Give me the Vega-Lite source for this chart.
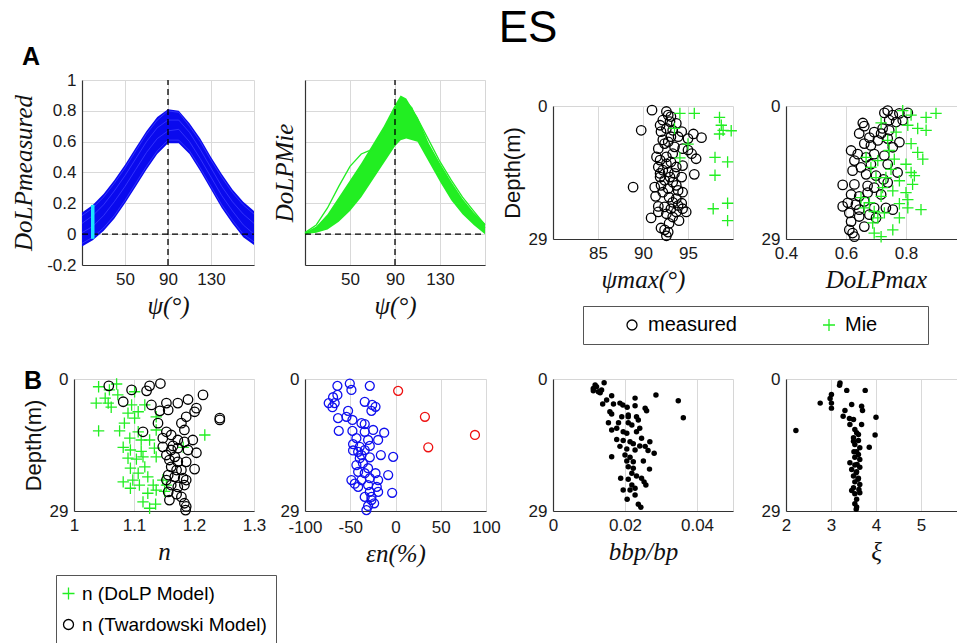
{
"$schema": "https://vega.github.io/schema/vega-lite/v6.json",
"background": "white",
"padding": {"left": 11, "top": 7, "right": 0, "bottom": 0},
"title": {"text": "ES", "fontSize": 44, "font": "Liberation Sans", "fontWeight": "normal", "anchor": "middle", "color": "#000", "offset": -6, "dx": 39},
"config": {
 "font": "Liberation Sans",
 "view": {"stroke": "#d6d6d6", "strokeWidth": 1},
 "axis": {"labelFont": "Liberation Sans", "labelFontSize": 17, "labelColor": "#1a1a1a", "titleFont": "Liberation Serif", "titleFontStyle": "italic", "titleFontWeight": "normal", "titleFontSize": 25, "titleColor": "#111", "domainColor": "#333", "domainWidth": 1.2, "ticks": false, "gridColor": "#d9d9d9", "labelFlush": false, "labelOverlap": false, "labelPadding": 6, "titlePadding": 6}
},
"columns": 8,
"spacing": {"row": 114, "column": 0},
"bounds": "flush",
"align": {"row": "each", "column": "each"},
"center": {"row": true, "column": true},
"resolve": {"scale": {"color": "independent", "shape": "independent"}, "legend": {"color": "independent", "shape": "independent"}},
"concat": [
 {"width": 9, "height": 1, "data": {"values": [{"a": 1}]}, "mark": {"type": "point", "opacity": 0}, "view": {"stroke": null}},
 {
  "width": 180, "height": 185,
  "view": {"stroke": null},
  "title": {"text": "A", "anchor": "start", "frame": "group", "fontSize": 25, "fontWeight": "bold", "font": "Liberation Sans", "dx": -52, "offset": 1, "color": "#000"},
  "encoding": {
   "x": {"field": "psi", "type": "quantitative", "scale": {"domain": [10, 170], "range": [8, 180], "nice": false, "zero": false}, "axis": {"values": [50, 90, 130, 170], "labelExpr": "datum.value > 150 ? '' : datum.label", "title": "ψ(°)", "titleX": 94, "grid": true, "labelOverlap": false}},
   "y": {"field": "y", "type": "quantitative", "scale": {"domain": [-0.2, 1], "nice": false, "zero": false}, "axis": {"values": [-0.2, 0, 0.2, 0.4, 0.6, 0.8, 1], "offset": -8, "labelExpr": "datum.value < -0.1 ? '-0.2' : format(datum.value, '.1~f')", "title": "DoLPmeasured", "grid": true, "titlePadding": 10, "labelOverlap": false, "labelSeparation": 0}}
  },
  "layer": [
   {"data": {"values": [
     {"psi":10,"y":-0.08,"y2":0.14},{"psi":20,"y":-0.04,"y2":0.19},{"psi":30,"y":0.02,"y2":0.26},{"psi":40,"y":0.10,"y2":0.35},{"psi":50,"y":0.20,"y2":0.45},{"psi":60,"y":0.31,"y2":0.56},{"psi":70,"y":0.42,"y2":0.67},{"psi":80,"y":0.52,"y2":0.76},{"psi":90,"y":0.59,"y2":0.81},{"psi":100,"y":0.59,"y2":0.80},{"psi":110,"y":0.52,"y2":0.72},{"psi":120,"y":0.41,"y2":0.62},{"psi":130,"y":0.29,"y2":0.50},{"psi":140,"y":0.17,"y2":0.39},{"psi":150,"y":0.07,"y2":0.29},{"psi":160,"y":-0.02,"y2":0.21},{"psi":170,"y":-0.07,"y2":0.15}
    ]},
    "mark": {"type": "area", "color": "#0a0aee", "opacity": 1},
    "encoding": {"y2": {"field": "y2"}}},
   {"data": {"values": [
     {"c":"c1","psi":10,"y":0.12},{"c":"c1","psi":20,"y":0.17},{"c":"c1","psi":30,"y":0.24},{"c":"c1","psi":40,"y":0.33},{"c":"c1","psi":50,"y":0.43},{"c":"c1","psi":60,"y":0.54},{"c":"c1","psi":70,"y":0.65},{"c":"c1","psi":80,"y":0.74},{"c":"c1","psi":90,"y":0.80},{"c":"c1","psi":100,"y":0.79},{"c":"c1","psi":110,"y":0.70},{"c":"c1","psi":120,"y":0.60},{"c":"c1","psi":130,"y":0.48},{"c":"c1","psi":140,"y":0.37},{"c":"c1","psi":150,"y":0.27},{"c":"c1","psi":160,"y":0.19},{"c":"c1","psi":170,"y":0.13},
     {"c":"c2","psi":10,"y":0.07},{"c":"c2","psi":20,"y":0.12},{"c":"c2","psi":30,"y":0.19},{"c":"c2","psi":40,"y":0.28},{"c":"c2","psi":50,"y":0.38},{"c":"c2","psi":60,"y":0.49},{"c":"c2","psi":70,"y":0.60},{"c":"c2","psi":80,"y":0.69},{"c":"c2","psi":90,"y":0.74},{"c":"c2","psi":100,"y":0.74},{"c":"c2","psi":110,"y":0.66},{"c":"c2","psi":120,"y":0.55},{"c":"c2","psi":130,"y":0.43},{"c":"c2","psi":140,"y":0.31},{"c":"c2","psi":150,"y":0.21},{"c":"c2","psi":160,"y":0.13},{"c":"c2","psi":170,"y":0.07},
     {"c":"c3","psi":10,"y":0.01},{"c":"c3","psi":20,"y":0.05},{"c":"c3","psi":30,"y":0.12},{"c":"c3","psi":40,"y":0.21},{"c":"c3","psi":50,"y":0.31},{"c":"c3","psi":60,"y":0.42},{"c":"c3","psi":70,"y":0.53},{"c":"c3","psi":80,"y":0.62},{"c":"c3","psi":90,"y":0.67},{"c":"c3","psi":100,"y":0.68},{"c":"c3","psi":110,"y":0.60},{"c":"c3","psi":120,"y":0.49},{"c":"c3","psi":130,"y":0.37},{"c":"c3","psi":140,"y":0.25},{"c":"c3","psi":150,"y":0.15},{"c":"c3","psi":160,"y":0.06},{"c":"c3","psi":170,"y":0.0},
     {"c":"c4","psi":10,"y":-0.06},{"c":"c4","psi":20,"y":-0.02},{"c":"c4","psi":30,"y":0.04},{"c":"c4","psi":40,"y":0.12},{"c":"c4","psi":50,"y":0.22},{"c":"c4","psi":60,"y":0.33},{"c":"c4","psi":70,"y":0.44},{"c":"c4","psi":80,"y":0.54},{"c":"c4","psi":90,"y":0.61},{"c":"c4","psi":100,"y":0.61},{"c":"c4","psi":110,"y":0.54},{"c":"c4","psi":120,"y":0.43},{"c":"c4","psi":130,"y":0.31},{"c":"c4","psi":140,"y":0.19},{"c":"c4","psi":150,"y":0.09},{"c":"c4","psi":160,"y":0.0},{"c":"c4","psi":170,"y":-0.05}
    ]},
    "mark": {"type": "line", "color": "#3b3bff", "strokeWidth": 0.8},
    "encoding": {"detail": {"field": "c"}}},
   {"data": {"values": [{"psi": 90, "y": -0.2, "y2": 1}]}, "mark": {"type": "rule", "color": "#000", "strokeDash": [6, 4], "strokeWidth": 1.3}, "encoding": {"y2": {"field": "y2"}}},
   {"data": {"values": [{"psi": 10, "psi2": 170, "y": 0}]}, "mark": {"type": "rule", "color": "#000", "strokeDash": [6, 4], "strokeWidth": 1.3}, "encoding": {"x2": {"field": "psi2"}}},
   {"data": {"values": [{"psi": 20, "y": -0.03, "y2": 0.19}]}, "mark": {"type": "rule", "color": "#19e3ff", "strokeWidth": 3.5}, "encoding": {"y2": {"field": "y2"}}}
  ]
 },
 {"width": 50, "height": 1, "data": {"values": [{"a": 1}]}, "mark": {"type": "point", "opacity": 0}, "view": {"stroke": null}},
 {
  "width": 180, "height": 185,
  "encoding": {
   "x": {"field": "psi", "type": "quantitative", "scale": {"domain": [10, 170], "nice": false, "zero": false}, "axis": {"values": [50, 90, 130], "title": "ψ(°)", "grid": true, "labelOverlap": false}},
   "y": {"field": "y", "type": "quantitative", "scale": {"domain": [-0.2, 1], "nice": false, "zero": false}, "axis": {"values": [-0.2, 0, 0.2, 0.4, 0.6, 0.8, 1], "labels": false, "title": "DoLPMie", "grid": true, "titlePadding": 8}}
  },
  "layer": [
   {"data": {"values": [
     {"psi":10,"y":0.0,"y2":0.01},{"psi":20,"y":0.01,"y2":0.05},{"psi":30,"y":0.03,"y2":0.13},{"psi":40,"y":0.08,"y2":0.24},{"psi":50,"y":0.15,"y2":0.35},{"psi":60,"y":0.24,"y2":0.46},{"psi":70,"y":0.35,"y2":0.58},{"psi":80,"y":0.46,"y2":0.70},{"psi":90,"y":0.57,"y2":0.84},{"psi":95,"y":0.61,"y2":0.90},{"psi":100,"y":0.62,"y2":0.88},{"psi":110,"y":0.60,"y2":0.76},{"psi":120,"y":0.47,"y2":0.59},{"psi":130,"y":0.34,"y2":0.46},{"psi":140,"y":0.22,"y2":0.34},{"psi":150,"y":0.13,"y2":0.23},{"psi":160,"y":0.06,"y2":0.14},{"psi":170,"y":0.0,"y2":0.07}
    ]},
    "mark": {"type": "area", "color": "#22ee22", "opacity": 1},
    "encoding": {"y2": {"field": "y2"}}},
   {"data": {"values": [
     {"c":"o","psi":10,"y":0.01},{"c":"o","psi":20,"y":0.06},{"c":"o","psi":30,"y":0.17},{"c":"o","psi":40,"y":0.31},{"c":"o","psi":50,"y":0.44},{"c":"o","psi":60,"y":0.52},{"c":"o","psi":65,"y":0.535},{"c":"o","psi":70,"y":0.55},{"c":"o","psi":80,"y":0.65},{"c":"o","psi":90,"y":0.80},{"c":"o","psi":100,"y":0.86},{"c":"o","psi":110,"y":0.75},{"c":"o","psi":120,"y":0.61},{"c":"o","psi":130,"y":0.47},{"c":"o","psi":140,"y":0.35},{"c":"o","psi":150,"y":0.24},{"c":"o","psi":160,"y":0.15},{"c":"o","psi":170,"y":0.06},
     {"c":"p","psi":10,"y":0.0},{"c":"p","psi":20,"y":0.04},{"c":"p","psi":30,"y":0.11},{"c":"p","psi":40,"y":0.21},{"c":"p","psi":50,"y":0.32},{"c":"p","psi":60,"y":0.43},{"c":"p","psi":70,"y":0.55},{"c":"p","psi":80,"y":0.67},{"c":"p","psi":90,"y":0.80},{"c":"p","psi":97,"y":0.88},{"c":"p","psi":105,"y":0.82},{"c":"p","psi":110,"y":0.73},{"c":"p","psi":120,"y":0.57},{"c":"p","psi":130,"y":0.44},{"c":"p","psi":140,"y":0.32},{"c":"p","psi":150,"y":0.21},{"c":"p","psi":160,"y":0.12},{"c":"p","psi":170,"y":0.04}
    ]},
    "mark": {"type": "line", "color": "#22ee22", "strokeWidth": 1.3},
    "encoding": {"detail": {"field": "c"}}},
   {"data": {"values": [{"psi": 90, "y": -0.2, "y2": 1}]}, "mark": {"type": "rule", "color": "#000", "strokeDash": [6, 4], "strokeWidth": 1.3}, "encoding": {"y2": {"field": "y2"}}},
   {"data": {"values": [{"psi": 10, "psi2": 170, "y": 0}]}, "mark": {"type": "rule", "color": "#000", "strokeDash": [6, 4], "strokeWidth": 1.3}, "encoding": {"x2": {"field": "psi2"}}}
  ]
 },
 {"width": 67, "height": 1, "data": {"values": [{"a": 1}]}, "mark": {"type": "point", "opacity": 0}, "view": {"stroke": null}},
 {
  "width": 180, "height": 133,
  "data": {"values": [
   {"v":91.0,"d":0.9,"t":"measured"},{"v":92.6,"d":1.2,"t":"measured"},{"v":92.8,"d":2.0,"t":"measured"},{"v":93.1,"d":2.3,"t":"measured"},{"v":92.2,"d":3.1,"t":"measured"},{"v":93.0,"d":3.4,"t":"measured"},{"v":93.7,"d":3.8,"t":"measured"},{"v":91.9,"d":4.2,"t":"measured"},{"v":89.8,"d":5.3,"t":"measured"},{"v":92.6,"d":4.9,"t":"measured"},{"v":93.3,"d":5.3,"t":"measured"},{"v":94.3,"d":5.6,"t":"measured"},{"v":95.6,"d":6.1,"t":"measured"},{"v":96.5,"d":6.9,"t":"measured"},{"v":92.0,"d":5.6,"t":"measured"},{"v":92.2,"d":7.4,"t":"measured"},{"v":92.8,"d":7.8,"t":"measured"},{"v":93.5,"d":8.9,"t":"measured"},{"v":94.4,"d":9.3,"t":"measured"},{"v":95.0,"d":7.1,"t":"measured"},{"v":95.0,"d":9.6,"t":"measured"},{"v":95.4,"d":10.4,"t":"measured"},{"v":93.3,"d":10.4,"t":"measured"},{"v":95.9,"d":11.5,"t":"measured"},{"v":92.6,"d":11.1,"t":"measured"},{"v":91.9,"d":11.8,"t":"measured"},{"v":93.1,"d":12.2,"t":"measured"},{"v":93.7,"d":13.3,"t":"measured"},{"v":94.4,"d":13.0,"t":"measured"},{"v":91.7,"d":13.3,"t":"measured"},{"v":92.2,"d":14.0,"t":"measured"},{"v":92.8,"d":14.4,"t":"measured"},{"v":95.7,"d":14.9,"t":"measured"},{"v":94.3,"d":15.5,"t":"measured"},{"v":91.9,"d":15.5,"t":"measured"},{"v":92.4,"d":16.2,"t":"measured"},{"v":93.3,"d":16.6,"t":"measured"},{"v":88.9,"d":17.7,"t":"measured"},{"v":92.0,"d":17.3,"t":"measured"},{"v":92.8,"d":18.0,"t":"measured"},{"v":93.9,"d":18.4,"t":"measured"},{"v":94.4,"d":18.8,"t":"measured"},{"v":91.4,"d":19.7,"t":"measured"},{"v":92.9,"d":19.9,"t":"measured"},{"v":93.7,"d":20.2,"t":"measured"},{"v":93.3,"d":21.0,"t":"measured"},{"v":94.3,"d":21.2,"t":"measured"},{"v":91.7,"d":21.9,"t":"measured"},{"v":92.4,"d":22.0,"t":"measured"},{"v":93.1,"d":22.4,"t":"measured"},{"v":94.4,"d":22.4,"t":"measured"},{"v":94.8,"d":23.1,"t":"measured"},{"v":93.7,"d":23.1,"t":"measured"},{"v":92.6,"d":23.5,"t":"measured"},{"v":90.9,"d":24.4,"t":"measured"},{"v":93.3,"d":24.2,"t":"measured"},{"v":94.0,"d":25.0,"t":"measured"},{"v":92.9,"d":25.6,"t":"measured"},{"v":92.0,"d":26.6,"t":"measured"},{"v":92.4,"d":27.0,"t":"measured"},{"v":92.8,"d":27.5,"t":"measured"},{"v":92.6,"d":28.3,"t":"measured"},{"v":91.7,"d":23.1,"t":"measured"},{"v":91.3,"d":17.7,"t":"measured"},{"v":91.5,"d":11.1,"t":"measured"},{"v":91.7,"d":9.3,"t":"measured"},{"v":93.9,"d":6.7,"t":"measured"},{"v":93.1,"d":6.7,"t":"measured"},{"v":92.4,"d":8.2,"t":"measured"},{"v":91.9,"d":14.7,"t":"measured"},{"v":93.5,"d":14.7,"t":"measured"},{"v":92.6,"d":12.6,"t":"measured"},{"v":93.0,"d":15.5,"t":"measured"},{"v":93.7,"d":17.3,"t":"measured"},{"v":92.2,"d":18.8,"t":"measured"},{"v":93.9,"d":21.7,"t":"measured"},
   {"v":94.1,"d":1.6,"t":"Mie"},{"v":95.7,"d":1.6,"t":"Mie"},{"v":98.5,"d":2.5,"t":"Mie"},{"v":98.7,"d":4.2,"t":"Mie"},{"v":98.9,"d":5.3,"t":"Mie"},{"v":99.8,"d":5.4,"t":"Mie"},{"v":98.5,"d":6.1,"t":"Mie"},{"v":93.5,"d":4.9,"t":"Mie"},{"v":95.0,"d":8.3,"t":"Mie"},{"v":94.1,"d":11.3,"t":"Mie"},{"v":98.0,"d":11.2,"t":"Mie"},{"v":99.4,"d":12.2,"t":"Mie"},{"v":98.0,"d":15.1,"t":"Mie"},{"v":99.4,"d":21.2,"t":"Mie"},{"v":97.8,"d":22.4,"t":"Mie"},{"v":99.4,"d":25.0,"t":"Mie"}
  ]},
  "mark": {"type": "point", "filled": false, "strokeWidth": 1.3, "size": 90, "opacity": 1},
  "encoding": {
   "x": {"field": "v", "type": "quantitative", "scale": {"domain": [80, 100], "nice": false, "zero": false}, "axis": {"values": [85, 90, 95], "title": "ψmax(°)", "grid": true}},
   "y": {"field": "d", "type": "quantitative", "scale": {"domain": [0, 29], "reverse": true, "nice": false, "zero": false}, "axis": {"values": [0, 29], "grid": false, "title": "Depth(m)", "titleFont": "Liberation Sans", "titleFontStyle": "normal", "titleFontSize": 22, "titlePadding": 4}},
   "color": {"field": "t", "type": "nominal", "scale": {"domain": ["measured", "Mie"], "range": ["#000000", "#22ee22"]},
     "legend": {"title": "\u00a0", "titleOrient": "right", "titlePadding": 42, "titleFontSize": 20, "orient": "none", "legendX": 30, "legendY": 200, "direction": "horizontal", "strokeColor": "#555", "fillColor": "#fff", "padding": 9, "labelFont": "Liberation Sans", "labelFontSize": 20, "labelColor": "#000", "symbolSize": 100, "symbolStrokeWidth": 1.3, "labelOffset": 6, "columnPadding": 52, "symbolOffset": 30, "labelLimit": 400}},
   "shape": {"field": "t", "type": "nominal", "scale": {"domain": ["measured", "Mie"], "range": ["circle", "M-1.2,0H1.2M0,-1.2V1.2"]},
     "legend": {"title": "\u00a0", "titleOrient": "right", "titlePadding": 42, "titleFontSize": 20, "orient": "none", "legendX": 30, "legendY": 200, "direction": "horizontal", "strokeColor": "#555", "fillColor": "#fff", "padding": 9, "labelFont": "Liberation Sans", "labelFontSize": 20, "labelColor": "#000", "symbolSize": 100, "symbolStrokeWidth": 1.3, "labelOffset": 6, "columnPadding": 52, "symbolOffset": 30, "labelLimit": 400}}
  }
 },
 {"width": 53, "height": 1, "data": {"values": [{"a": 1}]}, "mark": {"type": "point", "opacity": 0}, "view": {"stroke": null}},
 {
  "width": 180, "height": 133,
  "data": {"values": [
   {"v":0.739,"d":1.0,"t":"m"},{"v":0.728,"d":1.5,"t":"m"},{"v":0.756,"d":2.0,"t":"m"},{"v":0.778,"d":1.6,"t":"m"},{"v":0.806,"d":1.5,"t":"m"},{"v":0.744,"d":3.1,"t":"m"},{"v":0.767,"d":3.5,"t":"m"},{"v":0.789,"d":3.1,"t":"m"},{"v":0.656,"d":3.7,"t":"m"},{"v":0.661,"d":4.4,"t":"m"},{"v":0.722,"d":4.9,"t":"m"},{"v":0.694,"d":5.7,"t":"m"},{"v":0.717,"d":6.0,"t":"m"},{"v":0.644,"d":6.0,"t":"m"},{"v":0.678,"d":6.9,"t":"m"},{"v":0.744,"d":5.3,"t":"m"},{"v":0.661,"d":8.2,"t":"m"},{"v":0.683,"d":8.6,"t":"m"},{"v":0.706,"d":7.5,"t":"m"},{"v":0.739,"d":7.1,"t":"m"},{"v":0.778,"d":7.9,"t":"m"},{"v":0.756,"d":9.0,"t":"m"},{"v":0.617,"d":9.7,"t":"m"},{"v":0.639,"d":10.5,"t":"m"},{"v":0.628,"d":11.9,"t":"m"},{"v":0.667,"d":11.2,"t":"m"},{"v":0.694,"d":10.5,"t":"m"},{"v":0.728,"d":10.8,"t":"m"},{"v":0.739,"d":12.7,"t":"m"},{"v":0.683,"d":12.7,"t":"m"},{"v":0.650,"d":13.4,"t":"m"},{"v":0.622,"d":14.1,"t":"m"},{"v":0.667,"d":14.9,"t":"m"},{"v":0.700,"d":15.2,"t":"m"},{"v":0.772,"d":14.5,"t":"m"},{"v":0.725,"d":16.0,"t":"m"},{"v":0.589,"d":17.2,"t":"m"},{"v":0.628,"d":17.1,"t":"m"},{"v":0.672,"d":17.4,"t":"m"},{"v":0.694,"d":17.8,"t":"m"},{"v":0.739,"d":16.7,"t":"m"},{"v":0.617,"d":19.3,"t":"m"},{"v":0.644,"d":19.7,"t":"m"},{"v":0.672,"d":18.9,"t":"m"},{"v":0.717,"d":19.3,"t":"m"},{"v":0.606,"d":21.1,"t":"m"},{"v":0.589,"d":21.9,"t":"m"},{"v":0.633,"d":21.5,"t":"m"},{"v":0.661,"d":20.8,"t":"m"},{"v":0.694,"d":22.2,"t":"m"},{"v":0.733,"d":22.2,"t":"m"},{"v":0.756,"d":22.6,"t":"m"},{"v":0.611,"d":23.3,"t":"m"},{"v":0.644,"d":24.1,"t":"m"},{"v":0.678,"d":23.7,"t":"m"},{"v":0.617,"d":25.2,"t":"m"},{"v":0.661,"d":26.3,"t":"m"},{"v":0.611,"d":27.0,"t":"m"},{"v":0.622,"d":27.7,"t":"m"},{"v":0.628,"d":28.5,"t":"m"},{"v":0.700,"d":24.4,"t":"m"},{"v":0.644,"d":22.6,"t":"m"},
   {"v":0.789,"d":1.0,"t":"x"},{"v":0.817,"d":2.0,"t":"x"},{"v":0.867,"d":2.5,"t":"x"},{"v":0.9,"d":1.6,"t":"x"},{"v":0.717,"d":3.7,"t":"x"},{"v":0.806,"d":4.2,"t":"x"},{"v":0.839,"d":4.9,"t":"x"},{"v":0.867,"d":5.3,"t":"x"},{"v":0.767,"d":5.7,"t":"x"},{"v":0.739,"d":7.5,"t":"x"},{"v":0.817,"d":8.2,"t":"x"},{"v":0.839,"d":10.1,"t":"x"},{"v":0.856,"d":11.6,"t":"x"},{"v":0.667,"d":11.2,"t":"x"},{"v":0.706,"d":11.9,"t":"x"},{"v":0.761,"d":11.6,"t":"x"},{"v":0.800,"d":12.7,"t":"x"},{"v":0.683,"d":13.4,"t":"x"},{"v":0.75,"d":13.8,"t":"x"},{"v":0.817,"d":14.5,"t":"x"},{"v":0.828,"d":15.2,"t":"x"},{"v":0.700,"d":15.6,"t":"x"},{"v":0.733,"d":15.6,"t":"x"},{"v":0.778,"d":16.3,"t":"x"},{"v":0.822,"d":17.1,"t":"x"},{"v":0.722,"d":17.8,"t":"x"},{"v":0.756,"d":18.5,"t":"x"},{"v":0.800,"d":18.9,"t":"x"},{"v":0.717,"d":19.7,"t":"x"},{"v":0.806,"d":20.4,"t":"x"},{"v":0.678,"d":21.1,"t":"x"},{"v":0.778,"d":21.3,"t":"x"},{"v":0.661,"d":22.2,"t":"x"},{"v":0.694,"d":23.0,"t":"x"},{"v":0.728,"d":23.3,"t":"x"},{"v":0.850,"d":22.6,"t":"x"},{"v":0.806,"d":22.2,"t":"x"},{"v":0.706,"d":24.4,"t":"x"},{"v":0.778,"d":24.4,"t":"x"},{"v":0.689,"d":25.5,"t":"x"},{"v":0.756,"d":27.0,"t":"x"},{"v":0.694,"d":27.7,"t":"x"},{"v":0.717,"d":28.5,"t":"x"},{"v":0.650,"d":20.0,"t":"x"},{"v":0.744,"d":9.7,"t":"x"}
  ]},
  "mark": {"type": "point", "filled": false, "strokeWidth": 1.3, "size": 90, "opacity": 1},
  "encoding": {
   "x": {"field": "v", "type": "quantitative", "scale": {"domain": [0.4, 1.0], "nice": false, "zero": false}, "axis": {"values": [0.4, 0.6, 0.8], "format": ".1f", "title": "DoLPmax", "grid": true}},
   "y": {"field": "d", "type": "quantitative", "scale": {"domain": [0, 29], "reverse": true, "nice": false, "zero": false}, "axis": {"values": [0, 29], "grid": false, "title": null}},
   "color": {"field": "t", "type": "nominal", "scale": {"domain": ["m", "x"], "range": ["#000000", "#22ee22"]}, "legend": null},
   "shape": {"field": "t", "type": "nominal", "scale": {"domain": ["m", "x"], "range": ["circle", "M-1.2,0H1.2M0,-1.2V1.2"]}, "legend": null}
  }
 },
 {"width": 1, "height": 1, "data": {"values": [{"a": 1}]}, "mark": {"type": "point", "opacity": 0}, "view": {"stroke": null}},
 {
  "width": 180, "height": 132,
  "title": {"text": "B", "anchor": "start", "frame": "group", "fontSize": 25, "fontWeight": "bold", "font": "Liberation Sans", "dx": -50, "offset": -24, "color": "#000"},
  "data": {"values": [
   {"v":1.041,"d":1.7,"t":"n (DoLP Model)"},{"v":1.071,"d":1.1,"t":"n (DoLP Model)"},{"v":1.059,"d":2.4,"t":"n (DoLP Model)"},{"v":1.052,"d":4.2,"t":"n (DoLP Model)"},{"v":1.037,"d":5.3,"t":"n (DoLP Model)"},{"v":1.057,"d":5.3,"t":"n (DoLP Model)"},{"v":1.062,"d":6.2,"t":"n (DoLP Model)"},{"v":1.073,"d":3.5,"t":"n (DoLP Model)"},{"v":1.101,"d":2.8,"t":"n (DoLP Model)"},{"v":1.096,"d":5.7,"t":"n (DoLP Model)"},{"v":1.118,"d":5.7,"t":"n (DoLP Model)"},{"v":1.090,"d":7.5,"t":"n (DoLP Model)"},{"v":1.107,"d":7.2,"t":"n (DoLP Model)"},{"v":1.101,"d":8.6,"t":"n (DoLP Model)"},{"v":1.084,"d":9.7,"t":"n (DoLP Model)"},{"v":1.137,"d":8.3,"t":"n (DoLP Model)"},{"v":1.041,"d":11.4,"t":"n (DoLP Model)"},{"v":1.076,"d":11.4,"t":"n (DoLP Model)"},{"v":1.107,"d":11.6,"t":"n (DoLP Model)"},{"v":1.137,"d":11.2,"t":"n (DoLP Model)"},{"v":1.093,"d":13.0,"t":"n (DoLP Model)"},{"v":1.112,"d":13.4,"t":"n (DoLP Model)"},{"v":1.126,"d":13.4,"t":"n (DoLP Model)"},{"v":1.218,"d":12.3,"t":"n (DoLP Model)"},{"v":1.082,"d":15.0,"t":"n (DoLP Model)"},{"v":1.094,"d":15.6,"t":"n (DoLP Model)"},{"v":1.112,"d":15.9,"t":"n (DoLP Model)"},{"v":1.134,"d":15.2,"t":"n (DoLP Model)"},{"v":1.182,"d":15.0,"t":"n (DoLP Model)"},{"v":1.090,"d":17.4,"t":"n (DoLP Model)"},{"v":1.115,"d":17.1,"t":"n (DoLP Model)"},{"v":1.137,"d":17.1,"t":"n (DoLP Model)"},{"v":1.094,"d":19.6,"t":"n (DoLP Model)"},{"v":1.118,"d":19.3,"t":"n (DoLP Model)"},{"v":1.107,"d":20.7,"t":"n (DoLP Model)"},{"v":1.123,"d":21.5,"t":"n (DoLP Model)"},{"v":1.082,"d":22.6,"t":"n (DoLP Model)"},{"v":1.098,"d":22.2,"t":"n (DoLP Model)"},{"v":1.109,"d":23.3,"t":"n (DoLP Model)"},{"v":1.132,"d":23.3,"t":"n (DoLP Model)"},{"v":1.148,"d":22.2,"t":"n (DoLP Model)"},{"v":1.154,"d":23.3,"t":"n (DoLP Model)"},{"v":1.094,"d":24.0,"t":"n (DoLP Model)"},{"v":1.123,"d":25.1,"t":"n (DoLP Model)"},{"v":1.137,"d":24.4,"t":"n (DoLP Model)"},{"v":1.151,"d":24.7,"t":"n (DoLP Model)"},{"v":1.115,"d":27.0,"t":"n (DoLP Model)"},{"v":1.126,"d":28.4,"t":"n (DoLP Model)"},{"v":1.136,"d":27.5,"t":"n (DoLP Model)"},{"v":1.104,"d":17.6,"t":"n (DoLP Model)"},
   {"v":1.058,"d":1.5,"t":"n (Twardowski Model)"},{"v":1.096,"d":2.4,"t":"n (Twardowski Model)"},{"v":1.121,"d":2.6,"t":"n (Twardowski Model)"},{"v":1.126,"d":1.5,"t":"n (Twardowski Model)"},{"v":1.144,"d":1.0,"t":"n (Twardowski Model)"},{"v":1.082,"d":5.0,"t":"n (Twardowski Model)"},{"v":1.129,"d":5.7,"t":"n (Twardowski Model)"},{"v":1.143,"d":7.0,"t":"n (Twardowski Model)"},{"v":1.154,"d":5.3,"t":"n (Twardowski Model)"},{"v":1.157,"d":6.8,"t":"n (Twardowski Model)"},{"v":1.173,"d":5.3,"t":"n (Twardowski Model)"},{"v":1.19,"d":4.5,"t":"n (Twardowski Model)"},{"v":1.204,"d":6.4,"t":"n (Twardowski Model)"},{"v":1.201,"d":7.2,"t":"n (Twardowski Model)"},{"v":1.215,"d":3.5,"t":"n (Twardowski Model)"},{"v":1.243,"d":8.6,"t":"n (Twardowski Model)"},{"v":1.243,"d":9.0,"t":"n (Twardowski Model)"},{"v":1.140,"d":9.7,"t":"n (Twardowski Model)"},{"v":1.179,"d":9.7,"t":"n (Twardowski Model)"},{"v":1.187,"d":8.3,"t":"n (Twardowski Model)"},{"v":1.184,"d":11.2,"t":"n (Twardowski Model)"},{"v":1.115,"d":11.6,"t":"n (Twardowski Model)"},{"v":1.154,"d":11.6,"t":"n (Twardowski Model)"},{"v":1.148,"d":13.0,"t":"n (Twardowski Model)"},{"v":1.162,"d":12.3,"t":"n (Twardowski Model)"},{"v":1.198,"d":13.4,"t":"n (Twardowski Model)"},{"v":1.173,"d":13.4,"t":"n (Twardowski Model)"},{"v":1.184,"d":13.8,"t":"n (Twardowski Model)"},{"v":1.148,"d":14.9,"t":"n (Twardowski Model)"},{"v":1.162,"d":15.6,"t":"n (Twardowski Model)"},{"v":1.173,"d":15.2,"t":"n (Twardowski Model)"},{"v":1.19,"d":15.6,"t":"n (Twardowski Model)"},{"v":1.204,"d":16.2,"t":"n (Twardowski Model)"},{"v":1.154,"d":16.7,"t":"n (Twardowski Model)"},{"v":1.168,"d":17.1,"t":"n (Twardowski Model)"},{"v":1.159,"d":17.8,"t":"n (Twardowski Model)"},{"v":1.173,"d":18.2,"t":"n (Twardowski Model)"},{"v":1.187,"d":18.2,"t":"n (Twardowski Model)"},{"v":1.162,"d":19.3,"t":"n (Twardowski Model)"},{"v":1.171,"d":20.0,"t":"n (Twardowski Model)"},{"v":1.201,"d":19.8,"t":"n (Twardowski Model)"},{"v":1.157,"d":21.1,"t":"n (Twardowski Model)"},{"v":1.168,"d":21.5,"t":"n (Twardowski Model)"},{"v":1.182,"d":21.8,"t":"n (Twardowski Model)"},{"v":1.187,"d":22.2,"t":"n (Twardowski Model)"},{"v":1.162,"d":23.3,"t":"n (Twardowski Model)"},{"v":1.173,"d":23.7,"t":"n (Twardowski Model)"},{"v":1.184,"d":23.3,"t":"n (Twardowski Model)"},{"v":1.157,"d":24.8,"t":"n (Twardowski Model)"},{"v":1.171,"d":25.3,"t":"n (Twardowski Model)"},{"v":1.179,"d":25.9,"t":"n (Twardowski Model)"},{"v":1.159,"d":26.6,"t":"n (Twardowski Model)"},{"v":1.184,"d":27.3,"t":"n (Twardowski Model)"},{"v":1.187,"d":28.0,"t":"n (Twardowski Model)"},{"v":1.186,"d":28.8,"t":"n (Twardowski Model)"},{"v":1.179,"d":20.0,"t":"n (Twardowski Model)"},{"v":1.154,"d":22.2,"t":"n (Twardowski Model)"},{"v":1.165,"d":14.7,"t":"n (Twardowski Model)"}
  ]},
  "mark": {"type": "point", "filled": false, "strokeWidth": 1.3, "size": 90, "opacity": 1},
  "encoding": {
   "x": {"field": "v", "type": "quantitative", "scale": {"domain": [1, 1.3], "nice": false, "zero": false}, "axis": {"values": [1, 1.1, 1.2, 1.3], "format": ".1~f", "title": "n", "grid": true}},
   "y": {"field": "d", "type": "quantitative", "scale": {"domain": [0, 29], "reverse": true, "nice": false, "zero": false}, "axis": {"values": [0, 29], "grid": false, "title": "Depth(m)", "titleFont": "Liberation Sans", "titleFontStyle": "normal", "titleFontSize": 22, "titlePadding": 4}},
   "color": {"field": "t", "type": "nominal", "scale": {"domain": ["n (DoLP Model)", "n (Twardowski Model)"], "range": ["#22ee22", "#000000"]},
     "legend": {"title": null, "orient": "none", "legendX": -18, "legendY": 196, "direction": "vertical", "strokeColor": "#555", "fillColor": "#fff", "padding": 9, "labelFont": "Liberation Sans", "labelFontSize": 19, "labelColor": "#000", "symbolSize": 100, "symbolStrokeWidth": 1.3, "labelOffset": 4, "symbolOffset": -6, "rowPadding": 11, "labelLimit": 400}},
   "shape": {"field": "t", "type": "nominal", "scale": {"domain": ["n (DoLP Model)", "n (Twardowski Model)"], "range": ["M-1.2,0H1.2M0,-1.2V1.2", "circle"]},
     "legend": {"title": null, "orient": "none", "legendX": -18, "legendY": 196, "direction": "vertical", "strokeColor": "#555", "fillColor": "#fff", "padding": 9, "labelFont": "Liberation Sans", "labelFontSize": 19, "labelColor": "#000", "symbolSize": 100, "symbolStrokeWidth": 1.3, "labelOffset": 4, "symbolOffset": -6, "rowPadding": 11, "labelLimit": 400}}
  }
 },
 {"width": 51, "height": 1, "data": {"values": [{"a": 1}]}, "mark": {"type": "point", "opacity": 0}, "view": {"stroke": null}},
 {
  "width": 181, "height": 132,
  "data": {"values": [
   {"v":-64.2,"d":1.5,"t":"b"},{"v":-50.5,"d":1.0,"t":"b"},{"v":-48.7,"d":2.4,"t":"b"},{"v":-28.4,"d":1.5,"t":"b"},{"v":-64.2,"d":3.5,"t":"b"},{"v":-69.0,"d":4.0,"t":"b"},{"v":-73.8,"d":5.3,"t":"b"},{"v":-67.2,"d":5.3,"t":"b"},{"v":-69.7,"d":6.2,"t":"b"},{"v":-34.0,"d":5.0,"t":"b"},{"v":-25.8,"d":5.7,"t":"b"},{"v":-22.1,"d":6.1,"t":"b"},{"v":-26.6,"d":7.0,"t":"b"},{"v":-52.4,"d":7.0,"t":"b"},{"v":-63.5,"d":8.6,"t":"b"},{"v":-54.2,"d":8.3,"t":"b"},{"v":-47.6,"d":9.0,"t":"b"},{"v":-37.6,"d":9.7,"t":"b"},{"v":-34.0,"d":9.9,"t":"b"},{"v":-62.7,"d":11.4,"t":"b"},{"v":-47.6,"d":11.4,"t":"b"},{"v":-34.0,"d":11.6,"t":"b"},{"v":-24.7,"d":11.2,"t":"b"},{"v":-12.5,"d":11.8,"t":"b"},{"v":-43.2,"d":13.0,"t":"b"},{"v":-30.3,"d":13.4,"t":"b"},{"v":-19.2,"d":13.4,"t":"b"},{"v":-46.9,"d":14.3,"t":"b"},{"v":-39.5,"d":14.9,"t":"b"},{"v":-28.4,"d":14.7,"t":"b"},{"v":-46.9,"d":15.7,"t":"b"},{"v":-41.3,"d":16.0,"t":"b"},{"v":-34.0,"d":15.6,"t":"b"},{"v":-16.2,"d":16.7,"t":"b"},{"v":-2.6,"d":17.1,"t":"b"},{"v":-39.5,"d":17.4,"t":"b"},{"v":-28.4,"d":17.2,"t":"b"},{"v":-43.2,"d":18.9,"t":"b"},{"v":-36.0,"d":18.5,"t":"b"},{"v":-30.3,"d":19.6,"t":"b"},{"v":-41.3,"d":20.4,"t":"b"},{"v":-34.0,"d":20.7,"t":"b"},{"v":-22.1,"d":20.7,"t":"b"},{"v":-8.1,"d":21.1,"t":"b"},{"v":-48.7,"d":22.2,"t":"b"},{"v":-37.6,"d":22.2,"t":"b"},{"v":-28.4,"d":21.8,"t":"b"},{"v":-19.2,"d":22.2,"t":"b"},{"v":-41.3,"d":23.7,"t":"b"},{"v":-30.3,"d":23.3,"t":"b"},{"v":-20.7,"d":23.7,"t":"b"},{"v":-3.7,"d":25.0,"t":"b"},{"v":-28.4,"d":24.8,"t":"b"},{"v":-19.2,"d":24.8,"t":"b"},{"v":-34.0,"d":25.9,"t":"b"},{"v":-26.6,"d":26.6,"t":"b"},{"v":-23.6,"d":27.3,"t":"b"},{"v":-30.3,"d":27.9,"t":"b"},{"v":-32.1,"d":28.8,"t":"b"},{"v":-26.6,"d":25.9,"t":"b"},{"v":-37.6,"d":16.7,"t":"b"},{"v":-45.0,"d":23.0,"t":"b"},
   {"v":2.9,"d":2.6,"t":"r"},{"v":32.5,"d":8.3,"t":"r"},{"v":87.8,"d":12.3,"t":"r"},{"v":36.2,"d":15.0,"t":"r"}
  ]},
  "mark": {"type": "point", "filled": false, "strokeWidth": 1.3, "size": 80, "shape": "circle", "opacity": 1},
  "encoding": {
   "x": {"field": "v", "type": "quantitative", "scale": {"domain": [-100, 100], "nice": false, "zero": false}, "axis": {"values": [-100, -50, 0, 50, 100], "labelExpr": "replace(datum.label, '−', '-')", "title": "εn(%)", "grid": true, "labelPadding": 8}},
   "y": {"field": "d", "type": "quantitative", "scale": {"domain": [0, 29], "reverse": true, "nice": false, "zero": false}, "axis": {"values": [0, 29], "grid": false, "title": null}},
   "color": {"field": "t", "type": "nominal", "scale": {"domain": ["b", "r"], "range": ["#1010ee", "#ee1010"]}, "legend": null}
  }
 },
 {"width": 65, "height": 1, "data": {"values": [{"a": 1}]}, "mark": {"type": "point", "opacity": 0}, "view": {"stroke": null}},
 {
  "width": 180, "height": 132,
  "data": {"values": [
   {"v":0.0117,"d":1.3},{"v":0.0112,"d":2.1},{"v":0.0121,"d":1.7},{"v":0.0126,"d":2.8},{"v":0.0131,"d":3.0},{"v":0.0142,"d":0.8},{"v":0.0112,"d":2.6},{"v":0.0135,"d":2.4},{"v":0.0163,"d":3.7},{"v":0.0149,"d":4.6},{"v":0.0138,"d":5.5},{"v":0.0168,"d":5.5},{"v":0.0186,"d":5.3},{"v":0.0194,"d":5.7},{"v":0.0206,"d":6.2},{"v":0.0228,"d":4.2},{"v":0.0228,"d":5.9},{"v":0.0286,"d":3.5},{"v":0.0348,"d":4.8},{"v":0.0362,"d":8.5},{"v":0.0256,"d":6.4},{"v":0.0260,"d":7.0},{"v":0.0158,"d":7.2},{"v":0.0163,"d":7.7},{"v":0.0191,"d":8.3},{"v":0.0209,"d":7.9},{"v":0.0232,"d":8.3},{"v":0.0237,"d":9.0},{"v":0.0154,"d":9.6},{"v":0.0182,"d":9.6},{"v":0.0209,"d":9.6},{"v":0.0219,"d":10.1},{"v":0.0163,"d":11.2},{"v":0.0177,"d":10.8},{"v":0.0195,"d":11.6},{"v":0.0205,"d":11.9},{"v":0.0232,"d":11.6},{"v":0.0241,"d":10.8},{"v":0.0177,"d":13.3},{"v":0.0195,"d":13.5},{"v":0.0214,"d":13.8},{"v":0.0246,"d":13.0},{"v":0.0269,"d":13.8},{"v":0.0241,"d":14.7},{"v":0.0256,"d":14.8},{"v":0.0186,"d":14.8},{"v":0.0205,"d":15.4},{"v":0.0228,"d":15.6},{"v":0.0264,"d":15.7},{"v":0.0281,"d":16.3},{"v":0.0163,"d":17.1},{"v":0.0200,"d":16.7},{"v":0.0214,"d":17.2},{"v":0.0205,"d":18.0},{"v":0.0223,"d":18.2},{"v":0.0251,"d":18.0},{"v":0.0268,"d":19.8},{"v":0.0209,"d":19.3},{"v":0.0223,"d":19.6},{"v":0.0219,"d":20.7},{"v":0.0232,"d":21.3},{"v":0.0188,"d":21.8},{"v":0.0209,"d":22.0},{"v":0.0246,"d":21.8},{"v":0.0253,"d":22.6},{"v":0.0258,"d":23.3},{"v":0.0219,"d":23.3},{"v":0.0195,"d":24.4},{"v":0.0214,"d":24.4},{"v":0.0228,"d":24.0},{"v":0.0228,"d":25.5},{"v":0.0206,"d":26.4},{"v":0.0237,"d":27.5},{"v":0.0244,"d":28.2},{"v":0.0209,"d":8.3},{"v":0.0223,"d":14.2}
  ]},
  "mark": {"type": "circle", "size": 30, "color": "#000", "opacity": 1},
  "encoding": {
   "x": {"field": "v", "type": "quantitative", "scale": {"domain": [0, 0.05], "nice": false, "zero": false}, "axis": {"values": [0, 0.02, 0.04], "format": ".2~f", "title": "bbp/bp", "grid": true}},
   "y": {"field": "d", "type": "quantitative", "scale": {"domain": [0, 29], "reverse": true, "nice": false, "zero": false}, "axis": {"values": [0, 29], "grid": false, "title": null}}
  }
 },
 {"width": 53, "height": 1, "data": {"values": [{"a": 1}]}, "mark": {"type": "point", "opacity": 0}, "view": {"stroke": null}},
 {
  "width": 180, "height": 132,
  "data": {"values": [
   {"v":3.20,"d":0.9},{"v":3.19,"d":1.4},{"v":3.35,"d":2.5},{"v":3.76,"d":2.5},{"v":3.01,"d":3.4},{"v":2.98,"d":4.3},{"v":3.01,"d":5.3},{"v":3.01,"d":6.4},{"v":2.76,"d":5.3},{"v":3.46,"d":5.6},{"v":3.68,"d":6.0},{"v":3.70,"d":6.9},{"v":3.31,"d":6.9},{"v":3.27,"d":8.2},{"v":3.41,"d":8.7},{"v":3.50,"d":8.9},{"v":4.00,"d":8.4},{"v":3.68,"d":10.0},{"v":3.42,"d":10.0},{"v":2.22,"d":11.3},{"v":3.53,"d":11.1},{"v":3.57,"d":11.8},{"v":3.98,"d":12.3},{"v":3.50,"d":12.9},{"v":3.61,"d":13.5},{"v":3.85,"d":15.0},{"v":3.53,"d":14.4},{"v":3.64,"d":15.1},{"v":3.51,"d":16.0},{"v":3.61,"d":16.6},{"v":3.53,"d":17.2},{"v":3.64,"d":17.7},{"v":3.42,"d":18.4},{"v":3.53,"d":18.9},{"v":3.64,"d":19.4},{"v":3.46,"d":19.9},{"v":3.57,"d":20.4},{"v":3.50,"d":21.3},{"v":3.61,"d":21.8},{"v":3.53,"d":22.6},{"v":3.64,"d":23.2},{"v":3.50,"d":23.9},{"v":3.46,"d":24.5},{"v":3.64,"d":25.0},{"v":3.53,"d":25.2},{"v":3.57,"d":26.4},{"v":3.53,"d":27.4},{"v":3.57,"d":28.1},{"v":3.56,"d":28.6},{"v":3.61,"d":12.2},{"v":3.57,"d":16.0},{"v":3.56,"d":20.6},{"v":3.62,"d":24.3},{"v":3.50,"d":13.7},{"v":3.58,"d":18.8},{"v":3.60,"d":22.0}
  ]},
  "mark": {"type": "circle", "size": 30, "color": "#000", "opacity": 1},
  "encoding": {
   "x": {"field": "v", "type": "quantitative", "scale": {"domain": [2, 6], "nice": false, "zero": false}, "axis": {"values": [2, 3, 4, 5], "title": "ξ", "grid": true}},
   "y": {"field": "d", "type": "quantitative", "scale": {"domain": [0, 29], "reverse": true, "nice": false, "zero": false}, "axis": {"values": [0, 29], "grid": false, "title": null}}
  }
 }
]
}
